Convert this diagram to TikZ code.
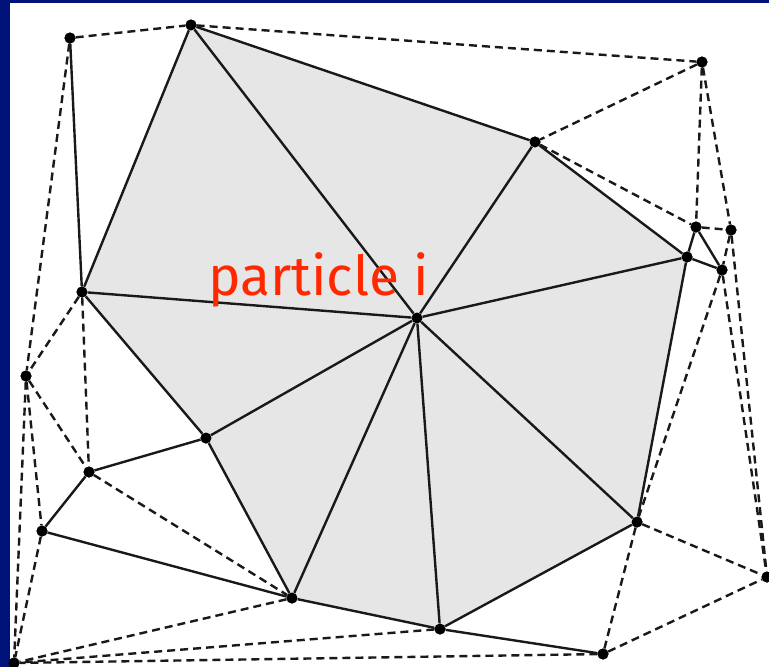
\documentclass[tikz,border=0pt]{standalone}
\usepackage{fontspec}
\newfontfamily\labelfont{Fira Sans}
\definecolor{navy}{RGB}{0,18,120}
\definecolor{cellgray}{RGB}{230,230,230}
\definecolor{lblred}{RGB}{255,40,0}
\begin{document}
\begin{tikzpicture}[x=1pt,y=-1pt,
  dot/.style={circle,fill=black,inner sep=0pt,minimum size=11pt},
  edge/.style={line width=2.4pt,black!90},
  dedge/.style={line width=2.4pt,black!90,dash pattern=on 8pt off 5pt}]
\useasboundingbox (0,0) rectangle (769,667);
\fill[white] (0,0) rectangle (769,667);
\fill[navy] (0,0) rectangle (10,667);
\fill[navy] (0,0) rectangle (769,3);
% nodes
\node[dot] (A) at (70,38) {};
\node[dot] (B) at (191,25) {};
\node[dot] (C) at (702,62) {};
\node[dot] (D) at (535,142) {};
\node[dot] (E) at (696,227) {};
\node[dot] (F) at (731,230) {};
\node[dot] (G) at (687,257) {};
\node[dot] (H) at (722,270) {};
\node[dot] (P) at (417,318) {};
\node[dot] (K) at (82,292) {};
\node[dot] (L) at (26,376) {};
\node[dot] (M) at (206,438) {};
\node[dot] (N) at (89,472) {};
\node[dot] (O) at (42,531) {};
\node[dot] (Q) at (637,522) {};
\node[dot] (R) at (292,598) {};
\node[dot] (S) at (440,629) {};
\node[dot] (T) at (603,654) {};
\node[dot] (U) at (767,577) {};
\node[dot] (V) at (14,663) {};
% shaded cell
\fill[cellgray] (B.center) -- (D.center) -- (G.center) -- (Q.center) -- (S.center) -- (R.center) -- (M.center) -- (K.center) -- cycle;
% solid edges
\foreach \a/\b in {B/K,B/P,B/D,D/P,D/G,G/P,G/Q,Q/P,Q/S,S/P,S/R,R/P,R/M,M/P,M/K,K/P,A/K,M/N,N/O,O/R,E/G,E/H,G/H,S/T}
  \draw[edge] (\a) -- (\b);
% dashed edges
\foreach \a/\b in {A/B,B/C,C/D,C/E,C/F,D/E,E/F,F/H,F/U,H/U,H/Q,Q/U,Q/T,T/U,A/L,K/L,K/N,L/N,L/O,L/V,O/V,N/R,R/V,S/V,T/V}
  \draw[dedge] (\a) -- (\b);
% dots on top
\foreach \n in {A,B,C,D,E,F,G,H,P,K,L,M,N,O,Q,R,S,T,U,V}
  \fill (\n) circle (5.5pt);
\node[anchor=base west,inner sep=0pt,text=lblred,font=\labelfont\fontsize{55}{66}\selectfont] (lbl) at (208,295) {particle i};
\end{tikzpicture}
\end{document}
